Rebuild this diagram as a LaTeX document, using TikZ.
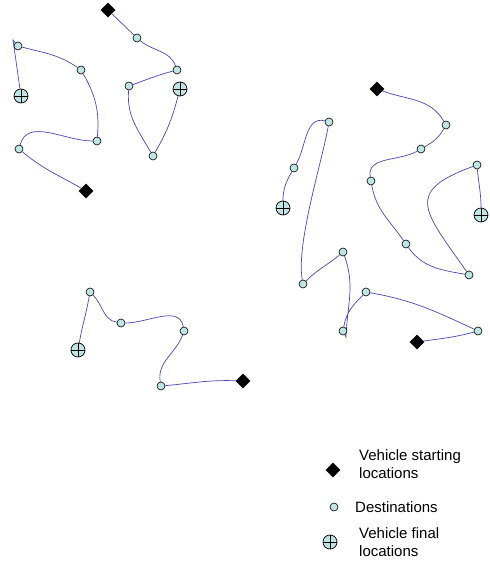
\documentclass[tikz,border=0pt]{standalone}
\usepackage{fontspec}
\setmainfont{Liberation Sans}
\usetikzlibrary{shapes.geometric,backgrounds}
\definecolor{routeblue}{RGB}{72,72,176}
\definecolor{stopfill}{RGB}{192,228,228}
\tikzset{
  startpt/.style={diamond, fill=black, inner sep=0pt, minimum size=15pt},
  destpt/.style={circle, draw=black, line width=0.6pt, fill=stopfill, inner sep=0pt, minimum size=8pt},
  finalpt/.style={circle, draw=black, line width=0.7pt, fill=stopfill, inner sep=0pt, minimum size=14pt,
    path picture={\draw[line width=0.7pt]
      (path picture bounding box.north) -- (path picture bounding box.south)
      (path picture bounding box.west) -- (path picture bounding box.east);}},
  route/.style={draw=routeblue, line width=0.7pt},
  legendtext/.style={anchor=west, align=left, font=\fontsize{15}{18}\selectfont, inner sep=0pt}
}
\begin{document}
\begin{tikzpicture}[x=1pt, y=1pt]
\useasboundingbox (0,0) rectangle (490,565);

% ---- route 1 (top left) ----
\node[startpt] (s1) at (86,374) {};
\node[destpt] (r1a) at (19,416) {};
\node[destpt] (r1b) at (97,424) {};
\node[destpt] (r1c) at (81,495) {};
\node[destpt] (r1d) at (18,519) {};
\coordinate (r1k) at (13,525);
\node[finalpt] (f1) at (21,469) {};

% ---- route 2 (top middle) ----
\node[startpt] (s2) at (108,555) {};
\node[destpt] (r2a) at (137,527) {};
\node[destpt] (r2b) at (177,495) {};
\node[destpt] (r2c) at (129,479) {};
\node[destpt] (r2d) at (153,409) {};
\node[finalpt] (f2) at (180,476) {};

% ---- route 3 (bottom left) ----
\node[startpt] (s3) at (243,184) {};
\node[destpt] (r3a) at (161,179) {};
\node[destpt] (r3b) at (184,234) {};
\node[destpt] (r3c) at (121,242) {};
\node[destpt] (r3d) at (90,273) {};
\node[finalpt] (f3) at (78,215) {};

% ---- route 4 (right, upper) ----
\node[startpt] (s4) at (377,476) {};
\node[destpt] (r4a) at (446,440) {};
\node[destpt] (r4b) at (421,416) {};
\node[destpt] (r4c) at (371,384) {};
\node[destpt] (r4d) at (406,321) {};
\node[destpt] (r4e) at (469,290) {};
\node[destpt] (r4f) at (477,400) {};
\node[finalpt] (f4) at (481,350) {};

% ---- route 5 (right, lower) ----
\node[startpt] (s5) at (417,223) {};
\node[destpt] (r5a) at (478,234) {};
\node[destpt] (r5b) at (366,273) {};
\node[destpt] (r5c) at (343,234) {};
\coordinate (r5k) at (346,228);
\node[destpt] (r5d) at (343,313) {};
\node[destpt] (r5e) at (303,281) {};
\node[destpt] (r5f) at (329,443) {};
\node[destpt] (r5g) at (294,397) {};
\node[finalpt] (f5) at (283,357) {};

\begin{scope}[on background layer]
  \path[route] (s1) to[out=150,in=-40] (r1a)
    to[out=75,in=180] (r1b)
    to[out=85,in=-60] (r1c)
    to[out=145,in=-15] (r1d)
    -- (r1k) -- (f1);
  \path[route] (s2) -- (r2a)
    to[out=-40,in=110] (r2b)
    to[out=195,in=20] (r2c)
    to[out=-95,in=120] (r2d)
    to[out=60,in=-105] (f2);
  \path[route] (s3) to[out=178,in=5] (r3a)
    to[out=100,in=-110] (r3b)
    to[out=100,in=0] (r3c)
    to[out=170,in=-45] (r3d)
    to[out=-100,in=80] (f3);
  \path[route] (s4) to[out=-20,in=120] (r4a)
    to[out=-120,in=30] (r4b)
    to[out=-150,in=100] (r4c)
    to[out=-80,in=125] (r4d)
    to[out=-55,in=170] (r4e)
    to[out=125,in=-160,looseness=1.8] (r4f)
    to[out=-85,in=90] (f4);
  \path[route] (s5) to[out=8,in=-165] (r5a)
    to[out=155,in=-10] (r5b)
    to[out=-135,in=80] (r5c)
    -- (r5k)
    to[out=88,in=-70] (r5d)
    to[out=-140,in=45] (r5e)
    to[out=100,in=-100,looseness=0.6] (r5f)
    to[out=165,in=60] (r5g)
    to[out=-120,in=90] (f5);
\end{scope}

% ---- legend ----
\node[startpt] (lgs) at (333,95) {};
\node[legendtext] (lgst) at (359,101) {Vehicle starting\\locations};
\node[destpt] (lgd) at (334,58) {};
\node[legendtext] (lgdt) at (355,58) {Destinations};
\node[finalpt] (lgf) at (330,23) {};
\node[legendtext] (lgft) at (359,23) {Vehicle final\\locations};
\end{tikzpicture}
\end{document}
